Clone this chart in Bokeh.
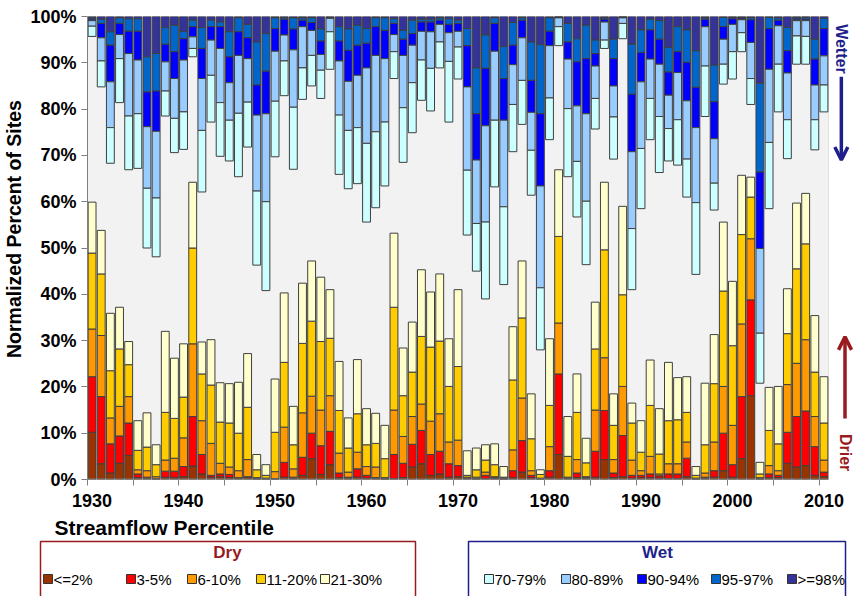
import numpy as np
from bokeh.plotting import figure
from bokeh.models import (ColumnDataSource, FixedTicker, PrintfTickFormatter, BoxAnnotation,
                          Arrow, OpenHead, Range1d)
from bokeh.layouts import column
from bokeh.embed import file_html
from bokeh.resources import INLINE
from bokeh.core.properties import value

years = list(range(1930, 2011))
year_labels = list(range(1930, 2011, 10))

# Dry classes (percent of sites), stacked upward from 0%
dry_le2 = [10.2, 3.4, 1.4, 3.5, 5.2, 0.4, 0.2, 0.1, 0.5, 0.4,
           0.6, 2.9, 1.2, 0.5, 0.6, 0.4, 0.2, 0.5, 0.1, 0.1,
           0.1, 0.5, 0.2, 0.9, 4.5, 1.1, 3.2, 0.4, 0.2, 0.5,
           0.3, 0.2, 0.1, 0.2, 0.4, 2.7, 3.4, 0.9, 1.2, 0.5,
           0.6, 0.2, 0.1, 0.2, 0.2, 0.1, 0.4, 1.6, 0.4, 0.1,
           0.5, 5.4, 0.2, 0.4, 0.2, 0.5, 4.3, 0.4, 0.6, 0.3,
           0.4, 0.4, 0.3, 0.2, 0.2, 0.6, 0.1, 0.2, 0.5, 1.9,
           0.5, 4.5, 18.1, 0.1, 0.4, 0.4, 3.5, 2.7, 3.0, 0.9,
           0.6]
dry_3_5 = [12.0, 14.5, 6.3, 5.9, 7.0, 0.8, 0.3, 0.1, 1.3, 1.4,
           2.2, 10.7, 4.2, 0.4, 0.6, 0.7, 0.2, 0.1, 0.1, 0.1,
           0.1, 3.2, 0.3, 3.9, 5.5, 6.2, 7.2, 1.0, 0.3, 1.8,
           0.6, 0.2, 0.1, 5.2, 3.1, 4.9, 7.2, 4.5, 4.9, 2.9,
           2.4, 0.1, 0.1, 0.7, 0.2, 0.1, 1.5, 6.8, 0.5, 0.1,
           1.4, 17.4, 0.1, 1.0, 0.2, 5.6, 10.6, 1.0, 8.9, 0.6,
           0.5, 0.8, 0.5, 1.0, 1.0, 4.0, 0.1, 0.3, 1.4, 8.1,
           2.7, 13.4, 20.7, 0.1, 0.8, 0.5, 6.7, 10.9, 11.8, 6.2,
           1.0]
dry_6_10 = [10.3, 13.2, 5.6, 6.4, 5.7, 0.9, 1.4, 0.4, 2.4, 2.8,
            6.2, 15.7, 7.3, 6.9, 2.3, 1.6, 1.5, 3.7, 0.2, 0.1,
            1.5, 7.6, 1.8, 9.6, 8.0, 7.7, 7.7, 4.3, 1.1, 3.6,
            1.9, 2.3, 0.2, 9.6, 5.8, 6.0, 5.7, 7.2, 8.1, 4.7,
            5.5, 0.2, 0.3, 0.7, 0.2, 0.1, 4.5, 9.2, 1.0, 0.1,
            5.2, 11.0, 0.2, 2.9, 0.2, 8.9, 11.4, 2.9, 10.6, 3.3,
            1.0, 3.8, 0.4, 2.2, 2.2, 3.5, 0.1, 0.9, 6.2, 10.1,
            8.5, 15.7, 13.2, 0.2, 1.8, 1.0, 10.3, 11.5, 15.4, 6.5,
            2.6]
dry_11_20 = [16.4, 13.3, 10.2, 12.4, 6.9, 4.2, 5.1, 2.6, 10.3, 8.6,
             8.8, 20.7, 10.1, 12.6, 8.9, 9.5, 8.1, 11.3, 1.7, 0.6,
             8.5, 14.0, 5.2, 15.0, 16.2, 14.8, 12.4, 9.2, 5.2, 8.3,
             4.7, 5.1, 4.1, 22.2, 8.8, 9.6, 14.6, 16.0, 15.7, 12.0,
             15.9, 0.4, 1.6, 2.6, 2.6, 0.2, 15.1, 17.3, 6.9, 0.8,
             8.9, 18.7, 4.5, 10.2, 3.0, 13.2, 23.3, 7.4, 19.8, 8.0,
             4.0, 11.0, 4.3, 9.3, 9.5, 6.4, 0.6, 6.1, 12.6, 20.6,
             17.2, 19.3, 9.0, 0.8, 7.6, 5.8, 11.0, 20.4, 20.7, 9.6,
             8.0]
dry_21_30 = [11.0, 9.4, 12.4, 9.0, 5.0, 6.4, 7.4, 4.3, 17.5, 13.0,
             11.5, 14.2, 6.9, 9.8, 8.5, 8.5, 11.0, 11.6, 3.3, 2.3,
             11.5, 15.0, 8.3, 13.0, 13.0, 13.9, 10.5, 10.6, 6.5, 11.7,
             7.8, 6.5, 7.2, 16.0, 10.3, 10.8, 14.4, 11.9, 14.5, 10.3,
             16.6, 5.3, 4.7, 3.3, 4.5, 2.3, 11.5, 12.3, 9.7, 1.0,
             14.4, 14.4, 8.6, 8.3, 5.3, 10.1, 14.6, 6.8, 19.1, 4.3,
             6.8, 9.8, 9.8, 12.6, 9.1, 7.7, 1.9, 13.3, 10.6, 14.9,
             13.9, 12.8, 4.3, 2.5, 9.3, 12.4, 9.7, 14.2, 10.9, 12.2,
             10.0]

# Wet classes (percent of sites), stacked downward from 100%
wet_ge98 = [0.3, 0.6, 3.3, 0.3, 0.5, 0.5, 8.7, 8.0, 2.4, 1.9,
            3.2, 0.8, 2.4, 0.8, 1.2, 3.3, 0.3, 1.7, 5.5, 3.7,
            0.3, 0.3, 0.3, 0.3, 0.3, 2.7, 0.2, 2.2, 2.7, 1.9,
            2.6, 0.3, 0.3, 0.5, 3.0, 0.8, 0.6, 0.6, 0.3, 0.5,
            0.8, 2.6, 11.1, 4.0, 0.3, 6.5, 1.3, 0.3, 5.5, 6.1,
            0.3, 0.1, 1.5, 4.8, 1.9, 5.1, 0.3, 4.9, 0.1, 6.0,
            2.9, 0.6, 0.9, 6.7, 2.2, 2.9, 7.4, 0.3, 10.5, 0.2,
            0.2, 0.2, 0.3, 14.4, 0.2, 0.3, 2.4, 0.3, 0.2, 4.9,
            0.4]
wet_95_97 = [0.3, 0.9, 2.9, 1.2, 2.7, 2.7, 7.6, 8.1, 3.6, 5.7,
             1.6, 1.4, 4.5, 1.4, 1.0, 5.4, 3.0, 2.9, 9.3, 8.1,
             2.3, 0.3, 2.4, 0.5, 1.0, 2.6, 0.1, 3.1, 4.6, 4.3,
             3.2, 1.9, 2.7, 1.0, 1.9, 2.9, 0.6, 0.6, 0.5, 1.2,
             0.7, 3.7, 9.9, 7.2, 1.2, 6.9, 4.9, 0.5, 8.3, 14.9,
             2.9, 0.1, 4.0, 5.0, 7.2, 2.9, 0.3, 4.2, 0.1, 10.8,
             4.9, 2.3, 4.0, 5.3, 5.4, 7.0, 7.9, 0.3, 7.9, 2.0,
             0.3, 0.2, 0.4, 19.2, 2.4, 0.5, 5.0, 0.3, 0.4, 4.3,
             2.2]
wet_90_94 = [0.3, 3.1, 7.9, 2.4, 4.8, 6.2, 7.5, 8.7, 3.8, 5.8,
             4.6, 2.2, 6.5, 2.9, 4.7, 5.6, 5.1, 4.5, 6.5, 9.2,
             4.9, 3.4, 4.5, 1.4, 1.7, 2.9, 0.1, 4.3, 6.7, 6.5,
             5.3, 6.2, 6.1, 2.4, 3.5, 2.5, 2.0, 2.1, 0.9, 1.8,
             1.7, 8.9, 10.0, 12.4, 6.0, 9.0, 4.2, 3.8, 6.9, 15.6,
             3.1, 0.1, 3.7, 9.5, 11.9, 2.7, 0.6, 5.9, 0.1, 12.4,
             6.3, 6.3, 5.4, 5.0, 4.5, 8.3, 8.7, 1.6, 8.0, 2.7,
             1.2, 0.3, 4.9, 16.5, 8.8, 1.2, 4.8, 0.3, 0.3, 5.6,
             5.9]
wet_80_89 = [1.2, 5.0, 9.9, 5.2, 13.5, 11.6, 13.3, 14.4, 6.3, 8.6,
             11.2, 2.5, 11.2, 7.6, 11.7, 8.1, 12.5, 9.4, 16.4, 19.0,
             10.8, 5.6, 12.4, 8.9, 5.4, 3.4, 2.9, 11.7, 10.6, 11.3,
             16.3, 16.5, 13.7, 3.7, 11.3, 8.1, 6.2, 7.9, 3.8, 6.2,
             3.4, 18.0, 13.7, 20.8, 14.9, 18.7, 8.6, 9.2, 8.2, 22.0,
             11.3, 1.9, 10.7, 12.0, 18.9, 7.0, 3.9, 6.7, 1.2, 16.6,
             14.4, 8.5, 11.3, 7.2, 10.2, 12.6, 16.2, 8.5, 9.6, 5.4,
             5.9, 2.8, 7.8, 18.3, 15.8, 8.3, 10.1, 3.3, 3.4, 7.5,
             6.3]
wet_70_79 = [2.2, 5.6, 7.7, 9.5, 11.6, 11.8, 12.9, 12.7, 5.4, 7.4,
             8.1, 1.8, 13.3, 10.1, 11.6, 8.8, 13.7, 9.7, 16.0, 19.2,
             12.0, 7.5, 13.4, 6.8, 6.6, 6.1, 8.1, 12.8, 12.6, 12.1,
             17.0, 16.4, 13.8, 5.8, 11.8, 10.8, 8.7, 9.2, 5.6, 13.1,
             6.9, 14.0, 10.3, 16.6, 14.4, 16.8, 10.2, 9.5, 9.7, 13.4,
             9.0, 4.1, 14.7, 12.0, 13.7, 6.6, 1.8, 9.1, 3.3, 13.2,
             13.0, 8.9, 12.1, 7.0, 9.8, 8.2, 15.5, 10.9, 5.8, 4.3,
             5.9, 4.1, 5.6, 10.8, 14.3, 10.3, 8.4, 6.1, 6.0, 6.5,
             5.8]

dry_labels = ["<=2%", "3-5%", "6-10%", "11-20%", "21-30%"]
wet_labels = ["70-79%", "80-89%", "90-94%", "95-97%", ">=98%"]
dry_colors = ["#993300", "#FF0000", "#FF9900", "#FFCC00", "#FFFFCC"]
wet_colors = ["#CCFFFF", "#99CCFF", "#0000FF", "#0066CC", "#333399"]

FONT = value("Liberation Sans")
DRY_RED = "#991B1E"
WET_NAVY = "#1F1F8C"

# ---- main stacked chart -------------------------------------------------
plot_left, plot_w, full_w = 86, 742, 855
main_h = 512
yr_px = plot_w / 81.0
x_end = 1929.5 + (full_w - plot_left) / yr_px

p = figure(width=full_w, height=main_h, output_backend="svg", toolbar_location=None,
           x_range=Range1d(1929.5, x_end), y_range=Range1d(0, 100),
           min_border_left=plot_left, min_border_right=0,
           min_border_top=16, min_border_bottom=main_h - 479)
p.frame_align = False
p.outline_line_color = None
p.grid.grid_line_color = None
p.background_fill_color = "white"
p.border_fill_color = "white"

p.add_layout(BoxAnnotation(left=1929.5, right=2010.5, bottom=0, top=100,
                           fill_color="#F2F2F2", fill_alpha=1.0,
                           line_color="#A6A6A6", line_width=1, level="underlay"))

bar_w = 0.86
edge = "#3F3F3F"

dry_series = [dry_le2, dry_3_5, dry_6_10, dry_11_20, dry_21_30]
base = np.zeros(len(years))
for vals, col in zip(dry_series, dry_colors):
    v = np.array(vals, dtype=float)
    src = ColumnDataSource(dict(x=years, bottom=base, top=base + v))
    p.vbar(x="x", bottom="bottom", top="top", width=bar_w, source=src,
           fill_color=col, line_color=edge, line_width=1)
    base = base + v

wet_series = [wet_ge98, wet_95_97, wet_90_94, wet_80_89, wet_70_79]
wet_cols_top_down = [wet_colors[4], wet_colors[3], wet_colors[2], wet_colors[1], wet_colors[0]]
ceiling = np.full(len(years), 100.0)
for vals, col in zip(wet_series, wet_cols_top_down):
    v = np.array(vals, dtype=float)
    src = ColumnDataSource(dict(x=years, bottom=ceiling - v, top=ceiling))
    p.vbar(x="x", bottom="bottom", top="top", width=bar_w, source=src,
           fill_color=col, line_color=edge, line_width=1)
    ceiling = ceiling - v

# bottom axis line across the plot area only
p.segment(x0=[1929.5], y0=[0], x1=[2010.5], y1=[0], line_color="#7F7F7F", line_width=2)

# y axis
p.yaxis.ticker = FixedTicker(ticks=list(range(0, 101, 10)))
p.yaxis.formatter = PrintfTickFormatter(format="%d%%")
p.yaxis.major_tick_out = 6
p.yaxis.major_tick_in = 0
p.yaxis.minor_tick_line_color = None
p.yaxis.axis_line_color = "#7F7F7F"
p.yaxis.major_tick_line_color = "#7F7F7F"
p.yaxis.major_label_text_font = "Liberation Sans"
p.yaxis.major_label_text_font_style = "bold"
p.yaxis.major_label_text_font_size = "18px"
p.yaxis.major_label_text_color = "#000000"
p.yaxis.major_label_standoff = 5
# leading no-break spaces lift the rotated title a little above the frame centre
p.yaxis.axis_label = "\u00a0" * 7 + "Normalized Percent of Sites"
p.yaxis.axis_label_text_font = "Liberation Sans"
p.yaxis.axis_label_text_font_style = "bold"
p.yaxis.axis_label_text_font_size = "19.5px"
p.yaxis.axis_label_text_color = "#000000"
p.yaxis.axis_label_standoff = 2

# x axis: labels every decade, tick marks on category boundaries every 5 years
p.xaxis.ticker = FixedTicker(ticks=year_labels,
                             minor_ticks=[1929.5 + 5 * k for k in range(17)])
p.xaxis.formatter = PrintfTickFormatter(format="%d")
p.xaxis.axis_line_color = None
p.xaxis.major_tick_line_color = None
p.xaxis.major_tick_out = 0
p.xaxis.major_tick_in = 0
p.xaxis.minor_tick_line_color = "#7F7F7F"
p.xaxis.minor_tick_out = 6
p.xaxis.minor_tick_in = 0
p.xaxis.major_label_text_font = "Liberation Sans"
p.xaxis.major_label_text_font_style = "bold"
p.xaxis.major_label_text_font_size = "18px"
p.xaxis.major_label_text_color = "#000000"
p.xaxis.major_label_standoff = 8

# direction hints on the right-hand side
p.text(x=[2011.9], y=[93.0], text=["Wetter"], angle=-np.pi / 2,
       text_align="center", text_baseline="middle", text_font=FONT,
       text_font_style="bold", text_font_size="16px", text_color=WET_NAVY)
p.add_layout(Arrow(x_start=2011.9, y_start=87.0, x_end=2011.9, y_end=69.0,
                   line_color=WET_NAVY, line_width=3.5,
                   end=OpenHead(size=13, line_color=WET_NAVY, line_width=3.5)))
p.text(x=[2012.4], y=[5.8], text=["Drier"], angle=-np.pi / 2,
       text_align="center", text_baseline="middle", text_font=FONT,
       text_font_style="bold", text_font_size="16px", text_color=DRY_RED)
p.add_layout(Arrow(x_start=2012.3, y_start=13.2, x_end=2012.3, y_end=30.8,
                   line_color=DRY_RED, line_width=3.5,
                   end=OpenHead(size=13, line_color=DRY_RED, line_width=3.5)))

# ---- legend strip (pixel-like coordinates, y grows downward) -------------
lg = figure(width=full_w, height=596 - main_h, output_backend="svg", toolbar_location=None,
            x_range=Range1d(0, full_w), y_range=Range1d(596, main_h),
            x_axis_location=None, y_axis_location=None,
            min_border_left=0, min_border_right=0, min_border_top=0, min_border_bottom=0)
lg.frame_align = False
lg.outline_line_color = None
lg.grid.grid_line_color = None

lg.text(x=[54], y=[527], text=["Streamflow Percentile"], text_align="left",
        text_baseline="middle", text_font=FONT, text_font_style="bold",
        text_font_size="21px", text_color="#000000")

lg.quad(left=[40, 468], right=[415, 845], top=[541, 541], bottom=[620, 620],
        fill_color=None, line_color=[DRY_RED, WET_NAVY], line_width=1.5)
lg.text(x=[227, 657], y=[552, 552], text=["Dry", "Wet"], text_align="center",
        text_baseline="middle", text_font=FONT, text_font_style="bold",
        text_font_size="17px", text_color=[DRY_RED, WET_NAVY])

sw_x = [43, 126, 187, 256, 320, 484, 561, 637, 711, 787]
sw_lab = dry_labels + wet_labels
sw_col = dry_colors + wet_colors
sw = 9
lg.quad(left=sw_x, right=[s + sw for s in sw_x], top=[574] * 10, bottom=[574 + sw] * 10,
        fill_color=sw_col, line_color="#333333", line_width=1)
lg.text(x=[s + sw + 1 for s in sw_x], y=[578.5] * 10, text=sw_lab, text_align="left",
        text_baseline="middle", text_font=FONT, text_font_size="15px", text_color="#000000")

layout = column(p, lg, spacing=0)
open("out.html", "w").write(file_html(layout, INLINE))
